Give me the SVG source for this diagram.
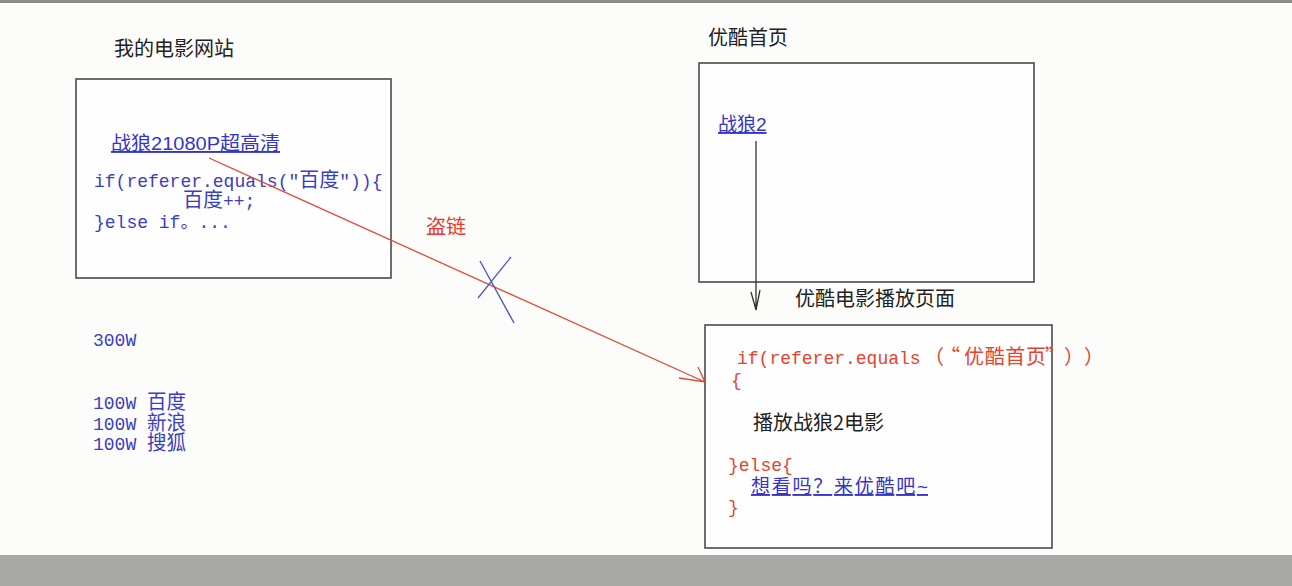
<svg xmlns="http://www.w3.org/2000/svg" width="1292" height="586" viewBox="0 0 1292 586">
<style>
.box{fill:#fefefe;stroke:#4a4a4a;stroke-width:1.6}
.title{font-family:"Noto Sans CJK SC","Liberation Sans",sans-serif;font-size:20px;fill:#222}
.link{font-family:"Liberation Sans","Noto Sans CJK SC",sans-serif;font-size:19px;fill:#3535c8;text-decoration:underline}
.code{font-family:"Liberation Mono","Noto Sans CJK SC",monospace;font-size:18px}
.blue{fill:#3a3ec0}
.red{fill:#e4432f}
.cjk{font-family:"Noto Sans CJK SC",sans-serif;font-size:20px}
</style>
<rect width="1292" height="586" fill="#fcfdfb"/>
<rect width="1292" height="3" fill="#8a8b88"/>
<rect y="555" width="1292" height="31" fill="#a9aaa7"/>

<g id="my-site">
<rect class="box" x="76" y="79" width="315" height="199"/>
<text class="title" x="114" y="56">我的电影网站</text>
<text class="link" x="111" y="150" textLength="169" lengthAdjust="spacingAndGlyphs">战狼21080P超高清</text>
<text class="code blue" x="94" y="187">if(referer.equals("<tspan class="cjk" font-size="19">百度</tspan>")){</text>
<text class="code blue" x="183" y="207"><tspan class="cjk" font-size="19">百度</tspan>++;</text>
<text class="code blue" x="94" y="228">}else if。...</text>
</g>

<g id="traffic">
<text class="code blue" x="93" y="346">300W</text>
<text class="code blue" x="93" y="409">100W <tspan class="cjk" font-size="18" textLength="39" lengthAdjust="spacingAndGlyphs">百度</tspan></text>
<text class="code blue" x="93" y="430">100W <tspan class="cjk" font-size="18" textLength="39" lengthAdjust="spacingAndGlyphs">新浪</tspan></text>
<text class="code blue" x="93" y="450">100W <tspan class="cjk" font-size="18" textLength="39" lengthAdjust="spacingAndGlyphs">搜狐</tspan></text>
</g>

<g id="youku-home">
<rect class="box" x="699" y="63" width="335" height="219"/>
<text class="title" x="708" y="45">优酷首页</text>
<text class="link" x="718" y="131" font-size="20">战狼2</text>
</g>

<g id="youku-play">
<rect class="box" x="705" y="325" width="347" height="223"/>
<text class="title" x="795" y="306">优酷电影播放页面</text>
<text class="code red" x="737" y="364">if(referer.equals<tspan class="cjk" x="924">（</tspan><tspan class="cjk" x="940">“</tspan><tspan class="cjk" x="964" textLength="82" lengthAdjust="spacing">优酷首页</tspan><tspan class="cjk" x="1045">”</tspan><tspan class="cjk" x="1064">）</tspan><tspan class="cjk" x="1084">）</tspan></text>
<text class="code red" x="731" y="386">{</text>
<text class="title" x="753" y="430">播放战狼2电影</text>
<text class="code red" x="728" y="471">}else{</text>
<text class="link" x="751" y="493" textLength="177" lengthAdjust="spacing">想看吗？来优酷吧~</text>
<text class="code red" x="728" y="513">}</text>
</g>

<g id="connectors" fill="none">
<path d="M756 141 V310 M751 292 L756 310 L760 290" stroke="#333" stroke-width="1.3"/>
<path d="M209 158 L705 382 M679 378 L705 382 L698 367" stroke="#e04a36" stroke-width="1.3"/>
<text x="426" y="234" font-family="Noto Sans CJK SC,sans-serif" font-size="20" fill="#e8392a" stroke="none">盗链</text>
<path d="M480 261 L514 323 M511 257 L478 298" stroke="#5058c8" stroke-width="1.4"/>
</g>
</svg>
